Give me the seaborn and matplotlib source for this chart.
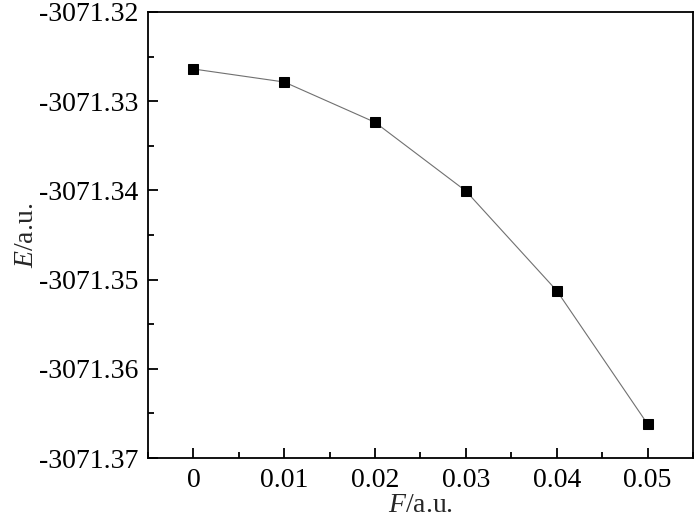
import pandas as pd
import seaborn as sns
import matplotlib.pyplot as plt
from matplotlib.ticker import FuncFormatter, MultipleLocator, AutoMinorLocator

# Field strength (a.u.) and total energy (a.u.)
field = [0.0, 0.01, 0.02, 0.03, 0.04, 0.05]
energy = [-3071.32639, -3071.32785, -3071.33237, -3071.34007, -3071.35124, -3071.36619]

df = pd.DataFrame({'F': field, 'E': energy})

sns.set_style('ticks')
plt.rcParams['font.family'] = ['Liberation Serif', 'DejaVu Serif']
plt.rcParams['mathtext.fontset'] = 'custom'
plt.rcParams['mathtext.rm'] = 'Liberation Serif'
plt.rcParams['mathtext.it'] = 'Liberation Serif:italic'
plt.rcParams['axes.unicode_minus'] = False

fig = plt.figure(figsize=(7.0, 5.19), dpi=100)
ax = fig.add_axes([0.2114, 0.1175, 0.7786, 0.8594])

sns.lineplot(data=df, x='F', y='E', ax=ax, color='#707070', linewidth=0.8,
             marker='s', markersize=6.5, markerfacecolor='black',
             markeredgecolor='black')

ax.set_xlim(-0.005, 0.055)
ax.set_ylim(-3071.37, -3071.32)

ax.xaxis.set_major_locator(MultipleLocator(0.01))
ax.xaxis.set_minor_locator(AutoMinorLocator(2))
ax.yaxis.set_major_locator(MultipleLocator(0.01))
ax.yaxis.set_minor_locator(AutoMinorLocator(2))
ax.xaxis.set_major_formatter(FuncFormatter(lambda v, p: '%g' % round(v, 4)))
ax.yaxis.set_major_formatter(FuncFormatter(lambda v, p: '%.2f' % v))

ax.tick_params(which='both', direction='in', top=False, right=False,
               labelsize=20, width=1.3, colors='black')
ax.tick_params(which='major', length=7, pad=7)
ax.tick_params(which='minor', length=4)

for s in ax.spines.values():
    s.set_linewidth(1.3)
    s.set_color('black')

ax.set_xlabel('$\\it{F}$/a.u.', fontsize=20, labelpad=0)
ax.set_ylabel('$\\it{E}$/a.u.', fontsize=20, labelpad=0)

plt.savefig('out.png', dpi=100)
